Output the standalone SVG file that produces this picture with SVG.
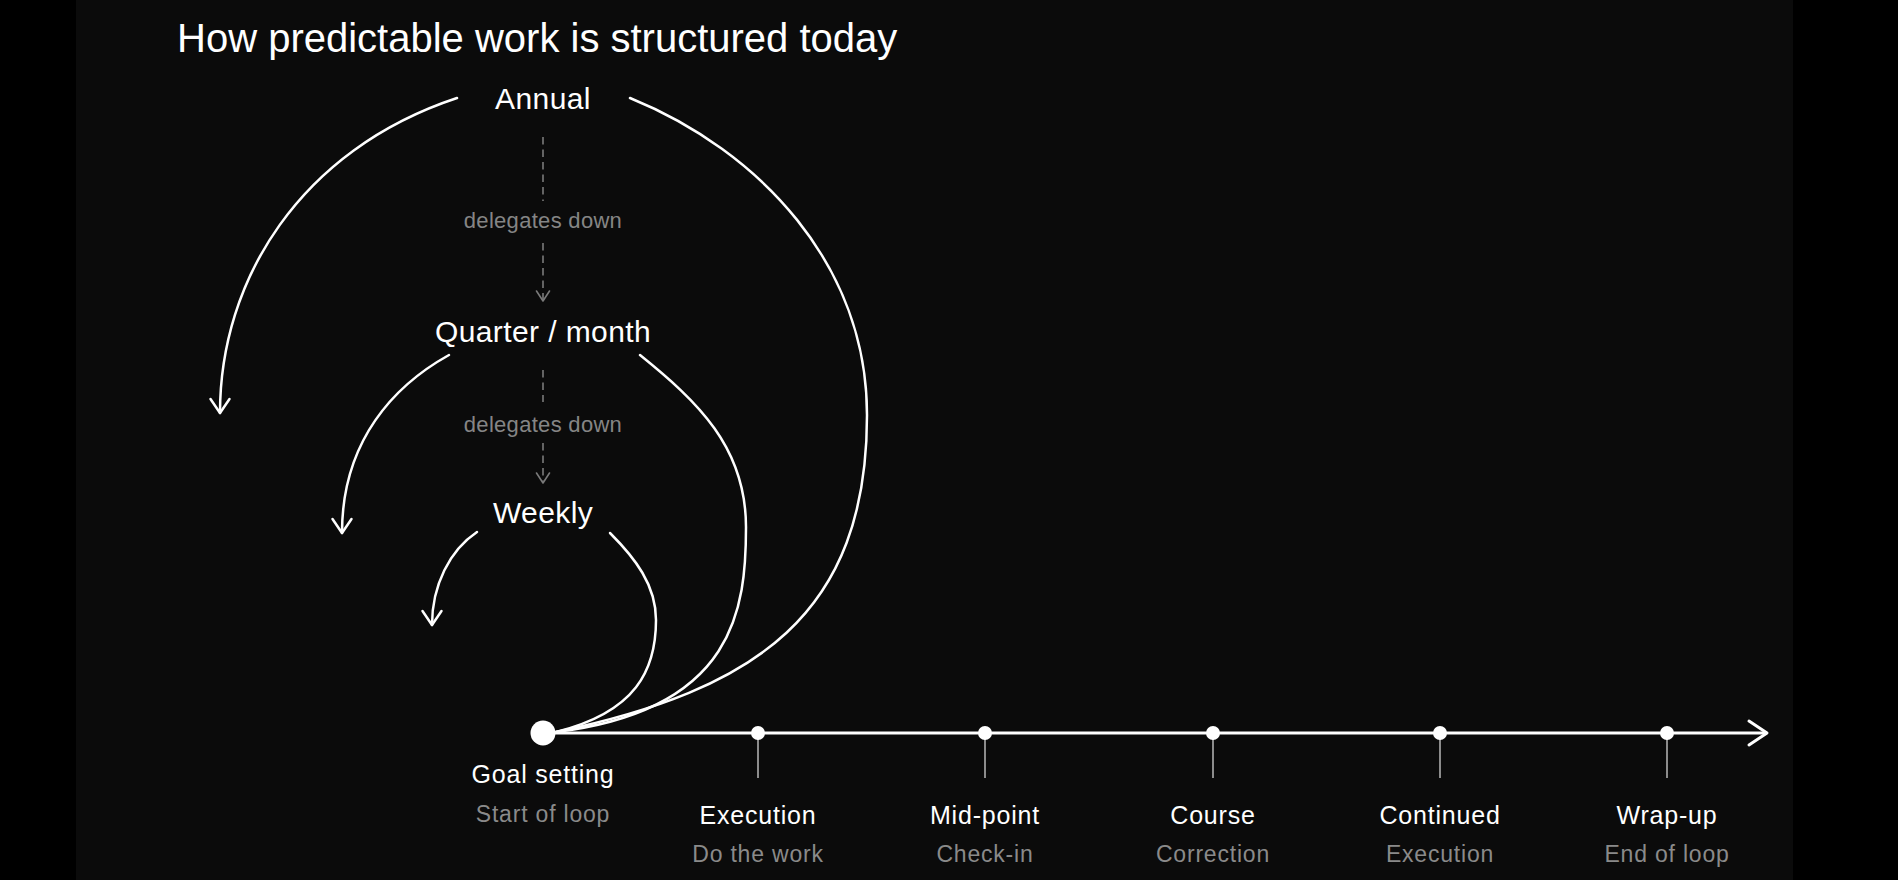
<svg xmlns="http://www.w3.org/2000/svg" width="1898" height="880" viewBox="0 0 1898 880">
  <style>
    text { font-family: "Liberation Sans", Arial, Helvetica, sans-serif; }
    .title { font-size: 40px; fill: #ffffff; }
    .level { font-size: 30px; fill: #ffffff; text-anchor: middle; letter-spacing: 0.4px; }
    .deleg { font-size: 22px; fill: #858585; text-anchor: middle; letter-spacing: 0.3px; }
    .ms { font-size: 25px; fill: #ffffff; text-anchor: middle; letter-spacing: 0.8px; }
    .sub { font-size: 23px; fill: #8a8a8a; text-anchor: middle; letter-spacing: 0.8px; }
    .arc { fill: none; stroke: #ffffff; stroke-width: 2.5; stroke-linecap: round; }
    .dash { fill: none; stroke: #7a7a7a; stroke-width: 1.6; stroke-dasharray: 7.5 5; }
    .tick { stroke: #8c8c8c; stroke-width: 2; }
    .dot { fill: #ffffff; }
  </style>
  <defs>
    <marker id="arrowWhite" markerUnits="userSpaceOnUse" viewBox="-20 -15 25 30" markerWidth="25" markerHeight="30" refX="0" refY="0" orient="auto" overflow="visible">
      <path d="M-14,-9.5 L0,0 L-14,9.5" fill="none" stroke="#ffffff" stroke-width="2.5" stroke-linecap="round" stroke-linejoin="round"/>
    </marker>
    <marker id="arrowTimeline" markerUnits="userSpaceOnUse" viewBox="-25 -15 30 30" markerWidth="30" markerHeight="30" refX="0" refY="0" orient="auto" overflow="visible">
      <path d="M-18,-12 L0,0 L-18,12" fill="none" stroke="#ffffff" stroke-width="3" stroke-linecap="round" stroke-linejoin="round"/>
    </marker>
    <marker id="arrowGray" markerUnits="userSpaceOnUse" viewBox="-12 -8 14 16" markerWidth="14" markerHeight="16" refX="0" refY="0" orient="auto" overflow="visible">
      <path d="M-10,-6.5 L0,0 L-10,6.5" fill="none" stroke="#7a7a7a" stroke-width="1.6" stroke-dasharray="none" stroke-linecap="round" stroke-linejoin="round"/>
    </marker>
  </defs>

  <rect x="0" y="0" width="1898" height="880" fill="#000000"/>
  <rect x="76" y="0" width="1717" height="880" fill="#0b0b0b"/>

  <text id="title" class="title" x="177" y="52">How predictable work is structured today</text>

  <g id="connectors">
    <path class="arc" d="M457,98 C300,150 220,280 220,413" marker-end="url(#arrowWhite)"/>
    <path class="arc" d="M630,98 C760,151 867,265 867,415 C867,615 756,690 556,732"/>
    <path class="arc" d="M449,355 C395,385 342,440 342,533" marker-end="url(#arrowWhite)"/>
    <path class="arc" d="M640,355 C697,401 746,447 746,527 C746,607 736,710 556,732"/>
    <path class="arc" d="M477,532 C450,550 432,585 432,625" marker-end="url(#arrowWhite)"/>
    <path class="arc" d="M610,533 C635,558 656,585 656,620 C656,670 636,712 556,732"/>

    <line class="dash" x1="543" y1="137" x2="543" y2="201"/>
    <line class="dash" x1="543" y1="243" x2="543" y2="301" marker-end="url(#arrowGray)"/>
    <text class="deleg" x="543" y="228">delegates down</text>

    <line class="dash" x1="543" y1="370" x2="543" y2="402"/>
    <line class="dash" x1="543" y1="443" x2="543" y2="483" marker-end="url(#arrowGray)"/>
    <text class="deleg" x="543" y="432">delegates down</text>

    <line x1="543" y1="733" x2="1767" y2="733" stroke="#ffffff" stroke-width="3" marker-end="url(#arrowTimeline)"/>
  </g>

  <g id="node-annual">
    <text class="level" x="543" y="109">Annual</text>
  </g>
  <g id="node-quarter">
    <text class="level" x="543" y="342">Quarter / month</text>
  </g>
  <g id="node-weekly">
    <text class="level" x="543" y="523">Weekly</text>
  </g>

  <g id="node-goal">
    <circle class="dot" cx="543" cy="733" r="12.5"/>
    <text class="ms" x="543" y="783">Goal setting</text>
    <text class="sub" x="543" y="822">Start of loop</text>
  </g>

  <g id="node-execution">
    <line class="tick" x1="758" y1="733" x2="758" y2="778"/>
    <circle class="dot" cx="758" cy="733" r="7"/>
    <text class="ms" x="758" y="824">Execution</text>
    <text class="sub" x="758" y="862">Do the work</text>
  </g>

  <g id="node-midpoint">
    <line class="tick" x1="985" y1="733" x2="985" y2="778"/>
    <circle class="dot" cx="985" cy="733" r="7"/>
    <text class="ms" x="985" y="824">Mid-point</text>
    <text class="sub" x="985" y="862">Check-in</text>
  </g>

  <g id="node-course">
    <line class="tick" x1="1213" y1="733" x2="1213" y2="778"/>
    <circle class="dot" cx="1213" cy="733" r="7"/>
    <text class="ms" x="1213" y="824">Course</text>
    <text class="sub" x="1213" y="862">Correction</text>
  </g>

  <g id="node-continued">
    <line class="tick" x1="1440" y1="733" x2="1440" y2="778"/>
    <circle class="dot" cx="1440" cy="733" r="7"/>
    <text class="ms" x="1440" y="824">Continued</text>
    <text class="sub" x="1440" y="862">Execution</text>
  </g>

  <g id="node-wrapup">
    <line class="tick" x1="1667" y1="733" x2="1667" y2="778"/>
    <circle class="dot" cx="1667" cy="733" r="7"/>
    <text class="ms" x="1667" y="824">Wrap-up</text>
    <text class="sub" x="1667" y="862">End of loop</text>
  </g>
</svg>
